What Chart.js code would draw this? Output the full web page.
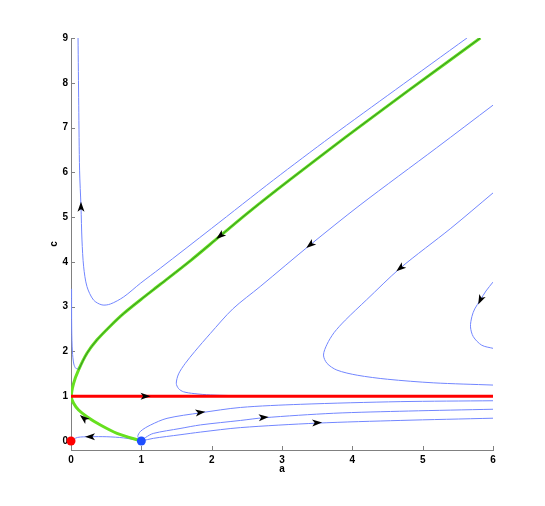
<!DOCTYPE html>
<html>
<head>
<meta charset="utf-8">
<script src="https://cdn.jsdelivr.net/npm/chart.js@4"></script>
<style>
  body { margin: 0; background: #fff; }
  canvas { display: block; }
</style>
</head>
<body>
<canvas id="chart" width="545" height="506"></canvas>
<script>
// tick labels
const xTicks = [0, 1, 2, 3, 4, 5, 6];
const yTicks = [0, 1, 2, 3, 4, 5, 6, 7, 8, 9];

// separatrix (green) through (1,0) -> (0,1) -> upper right
const sepA = [1, 0.654, 0.418, 0.227, 0.108, 0.037, 0.004, 0.037, 0.108, 0.227, 0.37, 0.56, 0.75, 0.985, 1.27, 1.7, 2.12, 2.55, 3.1, 3.9, 4.8, 5.82];
const sepC = [0, 0.172, 0.357, 0.543, 0.692, 0.842, 0.99, 1.29, 1.59, 1.96, 2.26, 2.57, 2.85, 3.15, 3.5, 4.03, 4.58, 5.14, 5.82, 6.78, 7.83, 9.0];

// invariant line c = 1
const lineA = [0, 6];
const lineC = [1, 1];

// trajectories (blue)
const trajA1 = [0.1, 0.11, 0.122, 0.142, 0.156, 0.18, 0.227, 0.32, 0.44, 0.56, 0.75, 0.985, 1.27, 2.0, 2.88, 3.7, 4.61, 5.63];
const trajC1 = [9.0, 7.5, 6.05, 5.23, 4.49, 3.89, 3.45, 3.15, 3.04, 3.06, 3.22, 3.52, 3.86, 4.75, 5.83, 6.8, 7.84, 9.0];

const trajA2 = [0.008, 0.01, 0.02, 0.04, 0.07, 0.1, 0.14, 0.227, 0.37, 0.56, 0.75, 0.985, 1.27, 1.7, 2.12, 2.55, 3.1, 3.9, 4.8, 5.82];
const trajC2 = [3.4, 2.5, 2.0, 1.72, 1.62, 1.63, 1.72, 1.96, 2.26, 2.57, 2.85, 3.15, 3.5, 4.03, 4.58, 5.14, 5.82, 6.78, 7.83, 9.0];

const trajA3 = [6.0, 5.2, 4.11, 3.4, 2.69, 2.3, 1.98, 1.76, 1.625, 1.53, 1.497, 1.53, 1.6, 1.75, 1.98, 2.5, 3.5, 6.0];
const trajC3 = [7.5, 6.55, 5.27, 4.38, 3.45, 2.95, 2.4, 2.0, 1.735, 1.5, 1.29, 1.17, 1.1, 1.06, 1.03, 1.01, 1.003, 1.0];

const trajA4 = [6.0, 5.4, 4.68, 4.2, 3.9, 3.74, 3.64, 3.59, 3.64, 3.78, 4.07, 4.5, 5.15, 6.0];
const trajC4 = [5.54, 4.75, 3.86, 3.15, 2.7, 2.42, 2.16, 1.92, 1.735, 1.585, 1.47, 1.38, 1.3, 1.25];

const trajA5 = [6.0, 5.9, 5.82, 5.74, 5.7, 5.68, 5.72, 5.84, 6.0];
const trajC5 = [3.55, 3.35, 3.15, 2.95, 2.78, 2.55, 2.33, 2.14, 2.07];

const trajA6 = [1, 0.95, 0.99, 1.13, 1.365, 1.84, 2.41, 3.26, 4.68, 6.0];
const trajC6 = [0, 0.1, 0.22, 0.357, 0.507, 0.63, 0.75, 0.82, 0.88, 0.9];

const trajA7 = [1, 1.06, 1.17, 1.55, 1.84, 2.41, 2.74, 3.73, 4.8, 6.0];
const trajC7 = [0, 0.08, 0.17, 0.28, 0.36, 0.46, 0.52, 0.62, 0.67, 0.71];

const trajA8 = [1, 1.17, 1.55, 1.84, 2.41, 3.5, 4.68, 6.0];
const trajC8 = [0, 0.06, 0.14, 0.2, 0.3, 0.4, 0.46, 0.51];

const trajA9 = [1, 0.75, 0.51, 0.27, 0.09, 0];
const trajC9 = [0, 0.07, 0.096, 0.096, 0.08, 0];

// equilibria
const eqRedA = [0], eqRedC = [0];
const eqBlueA = [1], eqBlueC = [0];

// arrowheads: position and direction of flow
const arrowA = [0.142, 2.12, 0.18, 3.40, 4.68, 5.82, 1.06, 1.84, 2.74, 3.50, 0.27];
const arrowC = [5.23, 4.58, 0.51, 4.38, 3.86, 3.15, 1.0, 0.64, 0.53, 0.41, 0.096];
const arrowDA = [0.0, -1, -0.12, -1, -1, -0.3, 1, 1, 1, 1, -1];
const arrowDC = [1, -1.29, 0.16, -1.28, -1.3, -1.0, 0, 0.22, 0.12, 0.08, 0];

const pts = (xs, ys) => xs.map((x, i) => ({ x: x, y: ys[i] }));

const BLUE = '#7286ff';

function traj(xs, ys) {
  return {
    data: pts(xs, ys),
    showLine: true,
    borderColor: BLUE,
    borderWidth: 1,
    pointRadius: 0,
    tension: 0.3,
    order: 4
  };
}

const arrowPlugin = {
  id: 'arrows',
  afterDatasetsDraw(chart) {
    const { ctx, scales: { x, y } } = chart;
    arrowA.forEach((a, i) => {
      const px = x.getPixelForValue(a);
      const py = y.getPixelForValue(arrowC[i]);
      const qx = x.getPixelForValue(a + arrowDA[i] * 0.01);
      const qy = y.getPixelForValue(arrowC[i] + arrowDC[i] * 0.01);
      ctx.save();
      ctx.translate(px, py);
      ctx.rotate(Math.atan2(qy - py, qx - px));
      ctx.fillStyle = '#000';
      ctx.beginPath();
      ctx.moveTo(5, 0);
      ctx.lineTo(-5, 3.5);
      ctx.lineTo(-2.5, 0);
      ctx.lineTo(-5, -3.5);
      ctx.closePath();
      ctx.fill();
      ctx.restore();
    });
  }
};

const tickPlugin = {
  id: 'innerTicks',
  beforeDatasetsDraw(chart) {
    const { ctx, chartArea: ca, scales: { x, y } } = chart;
    ctx.save();
    ctx.strokeStyle = '#808080';
    ctx.lineWidth = 1;
    ctx.beginPath();
    xTicks.forEach(v => {
      const p = Math.round(x.getPixelForValue(v)) + 0.5;
      ctx.moveTo(p, ca.bottom);
      ctx.lineTo(p, ca.bottom - 4);
    });
    yTicks.forEach(v => {
      const p = Math.round(y.getPixelForValue(v)) + 0.5;
      ctx.moveTo(ca.left, p);
      ctx.lineTo(ca.left + 4, p);
    });
    ctx.stroke();
    ctx.restore();
  }
};

const tickFont = { family: 'Liberation Sans', size: 10, weight: 'bold' };

// upper part of the separatrix carries a trajectory on top of it (dark centre)
const upperFrom = 8;

new Chart(document.getElementById('chart'), {
  type: 'scatter',
  data: {
    datasets: [
      { data: pts(eqRedA, eqRedC), pointRadius: 4.5, pointBackgroundColor: '#ff0000', pointBorderWidth: 0, clip: false, order: 0 },
      { data: pts(eqBlueA, eqBlueC), pointRadius: 4.5, pointBackgroundColor: '#1f4fff', pointBorderWidth: 0, clip: false, order: 0 },
      { data: pts(lineA, lineC), showLine: true, borderColor: '#ff0000', borderWidth: 3, pointRadius: 0, order: 1 },
      { data: pts(sepA.slice(upperFrom), sepC.slice(upperFrom)), showLine: true, borderColor: '#2f8a2a', borderWidth: 1, pointRadius: 0, tension: 0.3, order: 2 },
      { data: pts(sepA, sepC), showLine: true, borderColor: '#66e01e', borderWidth: 3, pointRadius: 0, tension: 0.3, order: 3 },
      traj(trajA1, trajC1),
      traj(trajA2, trajC2),
      traj(trajA3, trajC3),
      traj(trajA4, trajC4),
      traj(trajA5, trajC5),
      traj(trajA6, trajC6),
      traj(trajA7, trajC7),
      traj(trajA8, trajC8),
      traj(trajA9, trajC9)
    ]
  },
  options: {
    responsive: false,
    animation: false,
    layout: { padding: { top: 38, right: 52, left: 44, bottom: 31 } },
    plugins: { legend: { display: false }, tooltip: { enabled: false } },
    scales: {
      x: {
        type: 'linear',
        min: 0,
        max: 6,
        afterBuildTicks: s => { s.ticks = xTicks.map(v => ({ value: v })); },
        afterFit: s => { s.height = 25; },
        grid: { display: true, drawOnChartArea: false, drawTicks: false },
        border: { color: '#808080' },
        ticks: { color: '#000', font: tickFont, padding: 4 },
        title: { display: true, text: 'a', color: '#000', font: tickFont, padding: 0 }
      },
      y: {
        type: 'linear',
        min: -0.2,
        max: 9,
        afterBuildTicks: s => { s.ticks = yTicks.map(v => ({ value: v })); },
        afterFit: s => { s.width = 27; },
        grid: { display: true, drawOnChartArea: false, drawTicks: false },
        border: { color: '#808080' },
        ticks: { color: '#000', font: tickFont, padding: 3 },
        title: { display: true, text: 'c', color: '#000', font: tickFont, padding: { top: 4, bottom: 0 } }
      }
    }
  },
  plugins: [tickPlugin, arrowPlugin]
});
</script>
</body>
</html>
